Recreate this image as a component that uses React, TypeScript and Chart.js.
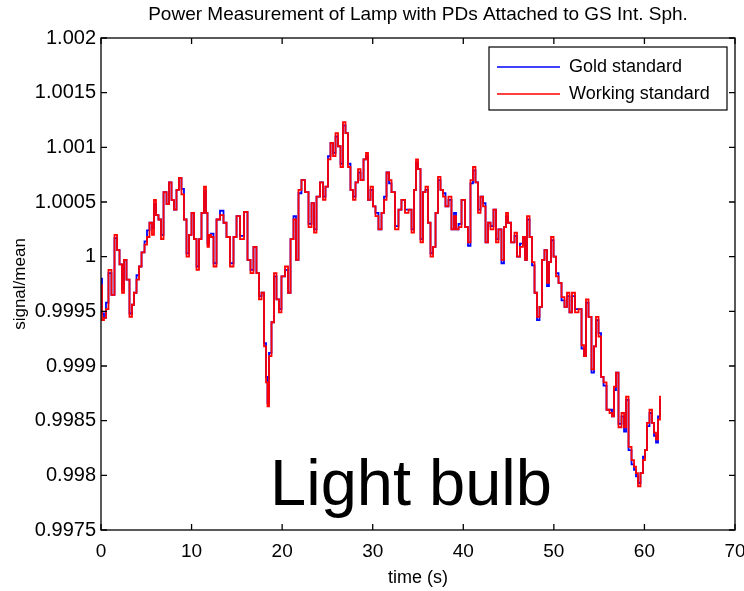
import React, { useEffect, useRef } from "react";
import { Chart, registerables } from "chart.js";

Chart.register(...registerables);

const chartTitle = "Power Measurement of Lamp with PDs Attached to GS Int. Sph.";
const xAxisTitle = "time (s)";
const yAxisTitle = "signal/mean";
const annotationText = "Light bulb";
const seriesLabels = ["Gold standard", "Working standard"];

const xTickValues = [0, 10, 20, 30, 40, 50, 60, 70];
const xTickLabels = ["0", "10", "20", "30", "40", "50", "60", "70"];
const yTickValues = [0.9975, 0.998, 0.9985, 0.999, 0.9995, 1.0, 1.0005, 1.001, 1.0015, 1.002];
const yTickLabels = ["0.9975", "0.998", "0.9985", "0.999", "0.9995", "1", "1.0005", "1.001", "1.0015", "1.002"];

const times = [
  0.00, 0.22, 0.44, 0.66, 0.99, 1.32, 1.66, 1.88, 2.21, 2.43,
  2.65, 2.98, 3.31, 3.53, 3.75, 4.09, 4.31, 4.64, 4.97, 5.19,
  5.52, 5.74, 5.96, 6.18, 6.51, 6.74, 7.07, 7.40, 7.62, 7.95,
  8.17, 8.50, 8.72, 9.05, 9.27, 9.61, 9.83, 10.16, 10.38, 10.71,
  10.93, 11.26, 11.48, 11.70, 11.81, 12.03, 12.26, 12.59, 12.92, 13.36,
  13.69, 14.02, 14.46, 14.80, 15.13, 15.57, 16.01, 16.34, 16.67, 17.00,
  17.33, 17.56, 17.89, 18.11, 18.33, 18.44, 18.66, 18.99, 19.21, 19.54,
  19.76, 20.09, 20.54, 20.76, 21.09, 21.42, 21.64, 21.97, 22.30, 22.74,
  23.08, 23.41, 23.63, 23.96, 24.40, 24.62, 24.95, 25.17, 25.51, 25.73,
  26.06, 26.28, 26.61, 26.83, 27.16, 27.38, 27.71, 27.93, 28.27, 28.49,
  28.82, 29.15, 29.37, 29.59, 29.92, 30.14, 30.47, 30.80, 31.14, 31.36,
  31.69, 31.91, 32.24, 32.68, 33.01, 33.34, 33.79, 34.12, 34.45, 34.67,
  34.89, 35.11, 35.44, 35.66, 35.99, 36.21, 36.55, 36.77, 37.10, 37.32,
  37.65, 37.87, 38.20, 38.53, 38.86, 39.09, 39.31, 39.64, 39.97, 40.41,
  40.63, 40.96, 41.18, 41.51, 41.74, 42.07, 42.29, 42.62, 42.84, 43.17,
  43.50, 43.72, 44.05, 44.38, 44.61, 44.83, 45.05, 45.49, 45.82, 46.04,
  46.48, 46.70, 46.92, 47.15, 47.48, 47.70, 48.03, 48.25, 48.58, 48.80,
  49.13, 49.35, 49.57, 49.80, 50.13, 50.35, 50.68, 51.01, 51.34, 51.56,
  51.89, 52.11, 52.56, 52.89, 53.22, 53.44, 53.66, 53.99, 54.32, 54.54,
  54.76, 55.10, 55.32, 55.65, 55.98, 56.31, 56.53, 56.75, 56.97, 57.30,
  57.64, 57.86, 58.08, 58.41, 58.74, 58.96, 59.18, 59.40, 59.73, 59.95,
  60.17, 60.39, 60.73, 60.95, 61.17, 61.39, 61.61, 61.83,
];

const workingStandard = [
  0.99974, 0.99942, 0.99944, 0.99952, 0.99988, 0.99965, 1.00020, 1.00006, 0.99993, 0.99967,
  0.99997, 0.99979, 0.99945, 0.99956, 0.99967, 0.99979, 0.99991, 1.00004, 1.00011, 1.00018,
  1.00031, 1.00020, 1.00052, 1.00038, 1.00034, 1.00016, 1.00059, 1.00048, 1.00068, 1.00052,
  1.00043, 1.00061, 1.00072, 1.00057, 1.00034, 1.00000, 1.00020, 1.00040, 1.00016, 0.99988,
  1.00016, 1.00040, 1.00064, 1.00040, 1.00009, 1.00020, 1.00018, 0.99991, 1.00034, 1.00038,
  1.00031, 1.00018, 0.99991, 1.00018, 1.00037, 1.00016, 1.00041, 0.99997, 0.99985, 1.00009,
  0.99985, 0.99961, 0.99967, 0.99918, 0.99885, 0.99863, 0.99909, 0.99940, 0.99985, 0.99961,
  0.99949, 0.99982, 0.99991, 0.99967, 1.00016, 1.00034, 0.99997, 1.00061, 1.00070, 1.00059,
  1.00027, 1.00049, 1.00022, 1.00055, 1.00068, 1.00052, 1.00064, 1.00089, 1.00104, 1.00092,
  1.00113, 1.00101, 1.00082, 1.00123, 1.00113, 1.00082, 1.00061, 1.00052, 1.00068, 1.00080,
  1.00070, 1.00089, 1.00095, 1.00052, 1.00064, 1.00046, 1.00037, 1.00025, 1.00040, 1.00052,
  1.00077, 1.00070, 1.00059, 1.00025, 1.00043, 1.00052, 1.00040, 1.00043, 1.00022, 1.00061,
  1.00089, 1.00080, 1.00013, 1.00059, 1.00064, 1.00031, 1.00000, 1.00009, 1.00040, 1.00073,
  1.00061, 1.00055, 1.00046, 1.00055, 1.00025, 1.00037, 1.00025, 1.00027, 1.00052, 1.00027,
  1.00013, 1.00070, 1.00082, 1.00068, 1.00040, 1.00055, 1.00046, 1.00013, 1.00031, 1.00025,
  1.00043, 1.00013, 1.00025, 0.99997, 1.00027, 1.00040, 1.00031, 1.00013, 1.00022, 1.00000,
  1.00009, 1.00018, 0.99997, 1.00037, 1.00018, 0.99995, 0.99967, 0.99945, 0.99954, 0.99997,
  1.00006, 0.99976, 0.99995, 1.00018, 1.00000, 0.99982, 0.99976, 0.99963, 0.99954, 0.99967,
  0.99949, 0.99967, 0.99949, 0.99952, 0.99919, 0.99909, 0.99961, 0.99945, 0.99897, 0.99918,
  0.99945, 0.99927, 0.99890, 0.99885, 0.99860, 0.99857, 0.99854, 0.99881, 0.99894, 0.99844,
  0.99857, 0.99844, 0.99872, 0.99826, 0.99814, 0.99808, 0.99802, 0.99790, 0.99802, 0.99814,
  0.99823, 0.99848, 0.99860, 0.99848, 0.99839, 0.99833, 0.99851, 0.99872,
];

const goldStandard = [
  0.99980, 0.99948, 0.99944, 0.99958, 0.99985, 0.99965, 1.00017, 1.00006, 0.99993, 0.99970,
  0.99997, 0.99979, 0.99948, 0.99956, 0.99967, 0.99983, 0.99991, 1.00004, 1.00014, 1.00024,
  1.00031, 1.00026, 1.00048, 1.00038, 1.00034, 1.00020, 1.00059, 1.00048, 1.00068, 1.00052,
  1.00043, 1.00061, 1.00072, 1.00062, 1.00034, 1.00003, 1.00020, 1.00040, 1.00016, 0.99991,
  1.00016, 1.00040, 1.00060, 1.00040, 1.00012, 1.00020, 1.00021, 0.99994, 1.00034, 1.00042,
  1.00031, 1.00018, 0.99994, 1.00018, 1.00037, 1.00019, 1.00041, 0.99997, 0.99988, 1.00009,
  0.99985, 0.99964, 0.99967, 0.99921, 0.99890, 0.99866, 0.99912, 0.99940, 0.99982, 0.99961,
  0.99952, 0.99982, 0.99988, 0.99967, 1.00016, 1.00037, 0.99997, 1.00058, 1.00070, 1.00059,
  1.00030, 1.00049, 1.00025, 1.00055, 1.00068, 1.00055, 1.00064, 1.00092, 1.00104, 1.00095,
  1.00110, 1.00101, 1.00085, 1.00120, 1.00113, 1.00085, 1.00061, 1.00055, 1.00068, 1.00077,
  1.00070, 1.00089, 1.00092, 1.00052, 1.00061, 1.00046, 1.00040, 1.00025, 1.00040, 1.00055,
  1.00077, 1.00067, 1.00059, 1.00028, 1.00043, 1.00052, 1.00043, 1.00043, 1.00025, 1.00061,
  1.00086, 1.00080, 1.00016, 1.00059, 1.00061, 1.00031, 1.00003, 1.00009, 1.00040, 1.00070,
  1.00061, 1.00058, 1.00046, 1.00052, 1.00025, 1.00040, 1.00025, 1.00030, 1.00052, 1.00027,
  1.00010, 1.00067, 1.00079, 1.00068, 1.00043, 1.00055, 1.00049, 1.00013, 1.00031, 1.00028,
  1.00043, 1.00016, 1.00025, 0.99994, 1.00027, 1.00037, 1.00031, 1.00013, 1.00019, 1.00000,
  1.00012, 1.00018, 0.99997, 1.00034, 1.00018, 0.99992, 0.99967, 0.99942, 0.99954, 0.99997,
  1.00006, 0.99973, 0.99995, 1.00015, 1.00000, 0.99985, 0.99976, 0.99960, 0.99954, 0.99964,
  0.99949, 0.99964, 0.99952, 0.99952, 0.99916, 0.99909, 0.99958, 0.99945, 0.99894, 0.99918,
  0.99942, 0.99930, 0.99890, 0.99882, 0.99860, 0.99860, 0.99854, 0.99878, 0.99894, 0.99847,
  0.99854, 0.99840, 0.99869, 0.99823, 0.99810, 0.99805, 0.99799, 0.99793, 0.99802, 0.99817,
  0.99823, 0.99845, 0.99857, 0.99848, 0.99836, 0.99830, 0.99854, 0.99869,
];

const FONT = 'Arial, "Liberation Sans", Helvetica, sans-serif';
const GOLD_COLOR = "#0000ff";
const WORKING_COLOR = "#ff0000";

const matlabDecor = {
  id: "matlabDecor",
  afterDraw(chart: any) {
    const { ctx, chartArea } = chart;
    const { left, right, top, bottom } = chartArea;
    const xs = chart.scales.x;
    const ys = chart.scales.y;
    ctx.save();
    ctx.strokeStyle = "#000";
    ctx.lineWidth = 1.3;
    ctx.strokeRect(left, top, right - left, bottom - top);
    const tl = 6;
    ctx.beginPath();
    xTickValues.forEach((v) => {
      const px = xs.getPixelForValue(v);
      ctx.moveTo(px, bottom);
      ctx.lineTo(px, bottom - tl);
      ctx.moveTo(px, top);
      ctx.lineTo(px, top + tl);
    });
    yTickValues.forEach((v) => {
      const py = ys.getPixelForValue(v);
      ctx.moveTo(left, py);
      ctx.lineTo(left + tl, py);
      ctx.moveTo(right, py);
      ctx.lineTo(right - tl, py);
    });
    ctx.stroke();

    ctx.fillStyle = "#000";
    ctx.font = `19px ${FONT}`;
    ctx.textAlign = "center";
    ctx.textBaseline = "middle";
    ctx.fillText(chartTitle, (left + right) / 2, 15);

    const lw = 238;
    const lh = 63;
    const lx = right - 8 - lw;
    const ly = top + 9;
    ctx.fillStyle = "#fff";
    ctx.fillRect(lx, ly, lw, lh);
    ctx.strokeStyle = "#000";
    ctx.lineWidth = 1.2;
    ctx.strokeRect(lx, ly, lw, lh);
    const entries = [
      { label: seriesLabels[0], color: GOLD_COLOR },
      { label: seriesLabels[1], color: WORKING_COLOR },
    ];
    ctx.font = `18px ${FONT}`;
    ctx.textAlign = "left";
    ctx.textBaseline = "middle";
    entries.forEach((e, i) => {
      const cy = ly + 20 + i * 27;
      ctx.strokeStyle = e.color;
      ctx.lineWidth = 1.5;
      ctx.beginPath();
      ctx.moveTo(lx + 8, cy);
      ctx.lineTo(lx + 71, cy);
      ctx.stroke();
      ctx.fillStyle = "#000";
      ctx.fillText(e.label, lx + 80, cy);
    });

    ctx.font = `65px ${FONT}`;
    ctx.textAlign = "center";
    ctx.textBaseline = "alphabetic";
    ctx.fillStyle = "#000";
    ctx.fillText(annotationText, left + 310, bottom - 25);
    ctx.restore();
  },
};

export default function App() {
  const canvasRef = useRef<HTMLCanvasElement | null>(null);

  useEffect(() => {
    const canvas = canvasRef.current;
    if (!canvas) return;
    const working = times.map((t, i) => ({ x: t, y: workingStandard[i] }));
    const gold = times.map((t, i) => ({ x: t, y: goldStandard[i] }));
    const chart = new Chart(canvas, {
      type: "line",
      data: {
        datasets: [
          {
            label: seriesLabels[1],
            data: working,
            borderColor: WORKING_COLOR,
            borderWidth: 1.8,
            pointRadius: 0,
            stepped: "middle",
            fill: false,
          },
          {
            label: seriesLabels[0],
            data: gold,
            borderColor: GOLD_COLOR,
            borderWidth: 1.8,
            pointRadius: 0,
            stepped: "middle",
            fill: false,
          },
        ],
      },
      options: {
        responsive: false,
        animation: false,
        events: [],
        layout: { padding: { left: 0, right: 9, top: 38, bottom: 0 } },
        plugins: {
          legend: { display: false },
          title: { display: false },
          tooltip: { enabled: false },
        },
        scales: {
          x: {
            type: "linear",
            min: 0,
            max: 70,
            grid: { display: false, drawTicks: false },
            border: { display: false },
            afterBuildTicks: (scale: any) => {
              scale.ticks = xTickValues.map((v) => ({ value: v }));
            },
            afterFit: (scale: any) => {
              scale.height = 61;
              scale.paddingLeft = 0;
              scale.paddingRight = 0;
            },
            ticks: {
              autoSkip: false,
              maxRotation: 0,
              padding: 10,
              color: "#000",
              font: { family: FONT, size: 19 },
              callback: (_v: any, i: number) => xTickLabels[i],
            },
            title: {
              display: true,
              text: xAxisTitle,
              color: "#000",
              font: { family: FONT, size: 18 },
              padding: { top: 0, bottom: 2 },
            },
          },
          y: {
            type: "linear",
            min: 0.9975,
            max: 1.002,
            grid: { display: false, drawTicks: false },
            border: { display: false },
            afterBuildTicks: (scale: any) => {
              scale.ticks = yTickValues.map((v) => ({ value: v }));
            },
            afterFit: (scale: any) => {
              scale.width = 101;
              scale.paddingTop = 0;
              scale.paddingBottom = 0;
            },
            ticks: {
              autoSkip: false,
              padding: 5,
              color: "#000",
              font: { family: FONT, size: 20 },
              callback: (_v: any, i: number) => yTickLabels[i],
            },
            title: {
              display: true,
              text: yAxisTitle,
              color: "#000",
              font: { family: FONT, size: 17 },
              padding: { top: 10, bottom: 0 },
            },
          },
        },
      },
      plugins: [matlabDecor],
    } as any);
    return () => chart.destroy();
  }, []);

  return (
    <div style={{ position: "fixed", left: 0, top: 0, width: 744, height: 591, background: "#fff" }}>
      <canvas ref={canvasRef} width={744} height={591} style={{ display: "block" }} />
    </div>
  );
}
